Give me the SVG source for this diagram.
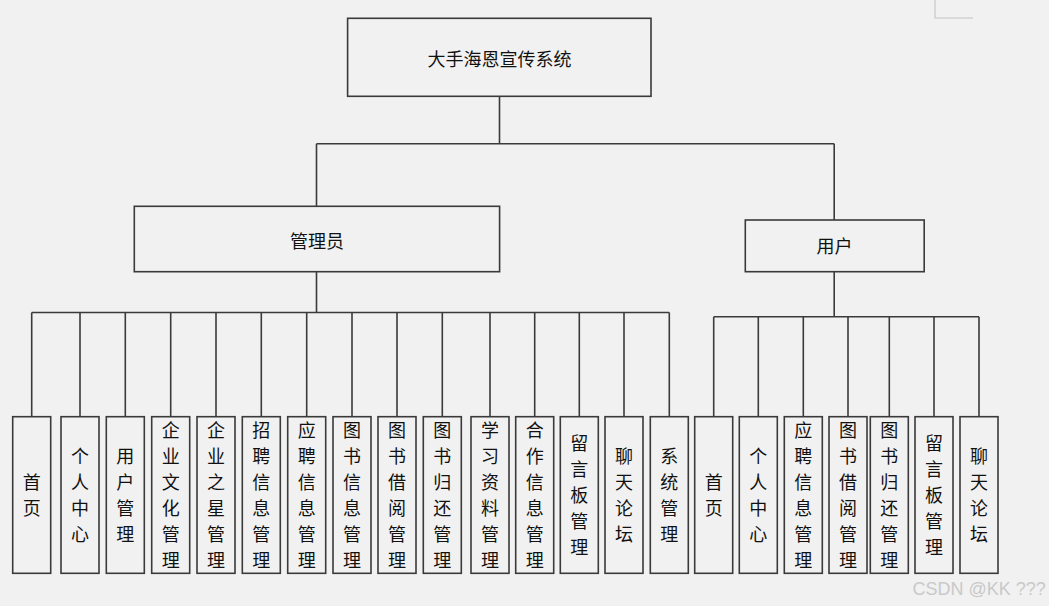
<svg xmlns="http://www.w3.org/2000/svg" width="1049" height="606" viewBox="0 0 1049 606">
<style>
.bg{fill:#f1f1f1}
.box{fill:#f1f1f1;stroke:#3a3a3a;stroke-width:1.6}
.ln{fill:none;stroke:#3a3a3a;stroke-width:1.6}
.t{font-family:"Noto Sans CJK SC","Noto Sans",sans-serif;font-size:18px;fill:#111;text-anchor:middle;dominant-baseline:central}
.wm{font-family:"Liberation Sans",Arial,sans-serif;font-size:18px;fill:#c9c9c9}
</style>
<rect class="bg" x="0" y="0" width="1049" height="606"/>
<path d="M935 0V18H973" fill="none" stroke="#d2d2d2" stroke-width="1.6"/>
<g id="connectors">
<path class="ln" d="M499.5 96.3V143.7M316.5 143.7H834.2M316.5 143.7V206.3M834.2 143.7V220"/>
<path class="ln" d="M316.5 271.7V312.5M31.7 312.5H669.3M31.7 312.5V416.7M80 312.5V416.7M125.3 312.5V416.7M170.7 312.5V416.7M216 312.5V416.7M261.3 312.5V416.7M306.7 312.5V416.7M352 312.5V416.7M397 312.5V416.7M442.3 312.5V416.7M490 312.5V416.7M534.7 312.5V416.7M579.3 312.5V416.7M624 312.5V416.7M669.3 312.5V416.7"/>
<path class="ln" d="M834.2 271.7V316.7M713.7 316.7H979M713.7 316.7V416.7M758.3 316.7V416.7M803.3 316.7V416.7M848 316.7V416.7M889.3 316.7V416.7M934 316.7V416.7M979 316.7V416.7"/>
</g>
<g id="root"><rect class="box" x="347.6" y="18.3" width="303.4" height="78"/><text class="t" x="499.5" y="57.5">大手海恩宣传系统</text></g>
<g id="admin"><rect class="box" x="134.3" y="206.3" width="365.3" height="65.4"/><text class="t" x="317" y="239.5">管理员</text></g>
<g id="user"><rect class="box" x="745.3" y="220" width="178.9" height="51.7"/><text class="t" x="834.5" y="245">用户</text></g>
<g id="a1"><rect class="box" x="12.7" y="416.7" width="38" height="156.6"/><text class="t"><tspan x="31.7" y="481">首</tspan><tspan x="31.7" y="507">页</tspan></text></g>
<g id="a2"><rect class="box" x="61" y="416.7" width="38" height="156.6"/><text class="t"><tspan x="80" y="455">个</tspan><tspan x="80" y="481">人</tspan><tspan x="80" y="507">中</tspan><tspan x="80" y="533">心</tspan></text></g>
<g id="a3"><rect class="box" x="106.3" y="416.7" width="38" height="156.6"/><text class="t"><tspan x="125.3" y="455">用</tspan><tspan x="125.3" y="481">户</tspan><tspan x="125.3" y="507">管</tspan><tspan x="125.3" y="533">理</tspan></text></g>
<g id="a4"><rect class="box" x="151.7" y="416.7" width="38" height="156.6"/><text class="t"><tspan x="170.7" y="429">企</tspan><tspan x="170.7" y="455">业</tspan><tspan x="170.7" y="481">文</tspan><tspan x="170.7" y="507">化</tspan><tspan x="170.7" y="533">管</tspan><tspan x="170.7" y="559">理</tspan></text></g>
<g id="a5"><rect class="box" x="197" y="416.7" width="38" height="156.6"/><text class="t"><tspan x="216" y="429">企</tspan><tspan x="216" y="455">业</tspan><tspan x="216" y="481">之</tspan><tspan x="216" y="507">星</tspan><tspan x="216" y="533">管</tspan><tspan x="216" y="559">理</tspan></text></g>
<g id="a6"><rect class="box" x="242.3" y="416.7" width="38" height="156.6"/><text class="t"><tspan x="261.3" y="429">招</tspan><tspan x="261.3" y="455">聘</tspan><tspan x="261.3" y="481">信</tspan><tspan x="261.3" y="507">息</tspan><tspan x="261.3" y="533">管</tspan><tspan x="261.3" y="559">理</tspan></text></g>
<g id="a7"><rect class="box" x="287.7" y="416.7" width="38" height="156.6"/><text class="t"><tspan x="306.7" y="429">应</tspan><tspan x="306.7" y="455">聘</tspan><tspan x="306.7" y="481">信</tspan><tspan x="306.7" y="507">息</tspan><tspan x="306.7" y="533">管</tspan><tspan x="306.7" y="559">理</tspan></text></g>
<g id="a8"><rect class="box" x="333" y="416.7" width="38" height="156.6"/><text class="t"><tspan x="352" y="429">图</tspan><tspan x="352" y="455">书</tspan><tspan x="352" y="481">信</tspan><tspan x="352" y="507">息</tspan><tspan x="352" y="533">管</tspan><tspan x="352" y="559">理</tspan></text></g>
<g id="a9"><rect class="box" x="378" y="416.7" width="38" height="156.6"/><text class="t"><tspan x="397" y="429">图</tspan><tspan x="397" y="455">书</tspan><tspan x="397" y="481">借</tspan><tspan x="397" y="507">阅</tspan><tspan x="397" y="533">管</tspan><tspan x="397" y="559">理</tspan></text></g>
<g id="a10"><rect class="box" x="423.3" y="416.7" width="38" height="156.6"/><text class="t"><tspan x="442.3" y="429">图</tspan><tspan x="442.3" y="455">书</tspan><tspan x="442.3" y="481">归</tspan><tspan x="442.3" y="507">还</tspan><tspan x="442.3" y="533">管</tspan><tspan x="442.3" y="559">理</tspan></text></g>
<g id="a11"><rect class="box" x="471" y="416.7" width="38" height="156.6"/><text class="t"><tspan x="490" y="429">学</tspan><tspan x="490" y="455">习</tspan><tspan x="490" y="481">资</tspan><tspan x="490" y="507">料</tspan><tspan x="490" y="533">管</tspan><tspan x="490" y="559">理</tspan></text></g>
<g id="a12"><rect class="box" x="515.7" y="416.7" width="38" height="156.6"/><text class="t"><tspan x="534.7" y="429">合</tspan><tspan x="534.7" y="455">作</tspan><tspan x="534.7" y="481">信</tspan><tspan x="534.7" y="507">息</tspan><tspan x="534.7" y="533">管</tspan><tspan x="534.7" y="559">理</tspan></text></g>
<g id="a13"><rect class="box" x="560.3" y="416.7" width="38" height="156.6"/><text class="t"><tspan x="579.3" y="442">留</tspan><tspan x="579.3" y="468">言</tspan><tspan x="579.3" y="494">板</tspan><tspan x="579.3" y="520">管</tspan><tspan x="579.3" y="546">理</tspan></text></g>
<g id="a14"><rect class="box" x="605" y="416.7" width="38" height="156.6"/><text class="t"><tspan x="624" y="455">聊</tspan><tspan x="624" y="481">天</tspan><tspan x="624" y="507">论</tspan><tspan x="624" y="533">坛</tspan></text></g>
<g id="a15"><rect class="box" x="650.3" y="416.7" width="38" height="156.6"/><text class="t"><tspan x="669.3" y="455">系</tspan><tspan x="669.3" y="481">统</tspan><tspan x="669.3" y="507">管</tspan><tspan x="669.3" y="533">理</tspan></text></g>
<g id="u1"><rect class="box" x="694.7" y="416.7" width="38" height="156.6"/><text class="t"><tspan x="713.7" y="481">首</tspan><tspan x="713.7" y="507">页</tspan></text></g>
<g id="u2"><rect class="box" x="739.3" y="416.7" width="38" height="156.6"/><text class="t"><tspan x="758.3" y="455">个</tspan><tspan x="758.3" y="481">人</tspan><tspan x="758.3" y="507">中</tspan><tspan x="758.3" y="533">心</tspan></text></g>
<g id="u3"><rect class="box" x="784.3" y="416.7" width="38" height="156.6"/><text class="t"><tspan x="803.3" y="429">应</tspan><tspan x="803.3" y="455">聘</tspan><tspan x="803.3" y="481">信</tspan><tspan x="803.3" y="507">息</tspan><tspan x="803.3" y="533">管</tspan><tspan x="803.3" y="559">理</tspan></text></g>
<g id="u4"><rect class="box" x="829" y="416.7" width="38" height="156.6"/><text class="t"><tspan x="848" y="429">图</tspan><tspan x="848" y="455">书</tspan><tspan x="848" y="481">借</tspan><tspan x="848" y="507">阅</tspan><tspan x="848" y="533">管</tspan><tspan x="848" y="559">理</tspan></text></g>
<g id="u5"><rect class="box" x="870.3" y="416.7" width="38" height="156.6"/><text class="t"><tspan x="889.3" y="429">图</tspan><tspan x="889.3" y="455">书</tspan><tspan x="889.3" y="481">归</tspan><tspan x="889.3" y="507">还</tspan><tspan x="889.3" y="533">管</tspan><tspan x="889.3" y="559">理</tspan></text></g>
<g id="u6"><rect class="box" x="915" y="416.7" width="38" height="156.6"/><text class="t"><tspan x="934" y="442">留</tspan><tspan x="934" y="468">言</tspan><tspan x="934" y="494">板</tspan><tspan x="934" y="520">管</tspan><tspan x="934" y="546">理</tspan></text></g>
<g id="u7"><rect class="box" x="960" y="416.7" width="38" height="156.6"/><text class="t"><tspan x="979" y="455">聊</tspan><tspan x="979" y="481">天</tspan><tspan x="979" y="507">论</tspan><tspan x="979" y="533">坛</tspan></text></g>
<text class="wm" x="912.5" y="595">CSDN @KK ???</text>
</svg>
